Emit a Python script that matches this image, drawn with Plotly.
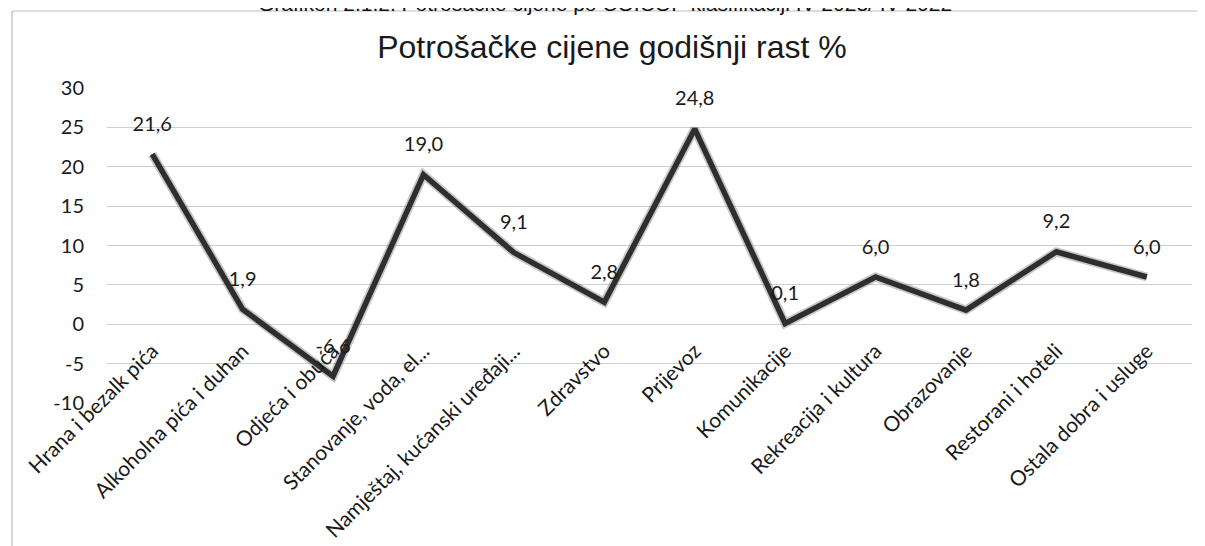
import plotly.graph_objects as go

categories = ["Hrana i bezalk pića", "Alkoholna pića i duhan", "Odjeća i obuća",
              "Stanovanje, voda, el...", "Namještaj, kućanski uređaji...", "Zdravstvo",
              "Prijevoz", "Komunikacije", "Rekreacija i kultura", "Obrazovanje",
              "Restorani i hoteli", "Ostala dobra i usluge"]
values = [21.6, 1.9, -6.6, 19.0, 9.1, 2.8, 24.8, 0.1, 6.0, 1.8, 9.2, 6.0]
labels = [f"{v:.1f}".replace(".", ",") for v in values]
y_ticks = [-10, -5, 0, 5, 10, 15, 20, 25, 30]

# page offset: the html body has an 8px margin
OFF = 8
W, H = 1205, 546
L, T = 107 - OFF, 88 - OFF
pw, ph = 1085, 315
R = W - L - pw
B = H - T - ph


def px_x(p):
    return (p - OFF - L) / pw


def px_y(p):
    return (T + ph - (p - OFF)) / ph


font = "Lato, 'Open Sans', 'DejaVu Sans', sans-serif"

fig = go.Figure()
# soft shadow under the line
fig.add_trace(go.Scatter(x=categories, y=values, mode="lines",
                         line=dict(color="rgba(70,70,70,0.30)", width=9),
                         hoverinfo="skip", showlegend=False))
fig.add_trace(go.Scatter(x=categories, y=values, mode="lines+markers+text",
                         line=dict(color="#2e2e2e", width=5.5),
                         marker=dict(size=28, color="rgba(0,0,0,0)"),
                         text=labels, textposition="top center",
                         textfont=dict(family=font, size=20, color="#1a1a1a"),
                         showlegend=False))

fig.update_layout(
    width=W, height=H,
    margin=dict(l=L, r=R, t=T, b=B, autoexpand=False),
    paper_bgcolor="white", plot_bgcolor="white",
    title=dict(text="Potrošačke cijene godišnji rast %", x=(612 - OFF) / W, xanchor="center",
               y=1 - (47 - OFF) / H, yanchor="middle",
               font=dict(family="'Liberation Sans Narrow', 'Liberation Sans', Arial, sans-serif",
                         size=32, color="#1a1a1a")),
    xaxis=dict(type="category", anchor="free", position=(10 - 1.2) / 40, automargin=False,
               showgrid=False, showline=False, ticks="", tickangle=-45,
               tickfont=dict(family=font, size=21, color="#1a1a1a"),
               range=[-0.5, len(categories) - 0.5], zeroline=False),
    yaxis=dict(range=[-10, 30], tickvals=y_ticks, ticktext=[str(t) for t in y_ticks],
               showgrid=True, gridcolor="#cfcfcf", gridwidth=1.2, zeroline=False,
               showline=False, ticks="", ticklabelstandoff=22, automargin=False,
               tickfont=dict(family=font, size=20, color="#1a1a1a")),
    shapes=[
        dict(type="line", xref="paper", yref="paper",
             x0=px_x(12), x1=px_x(1200), y0=px_y(11), y1=px_y(11),
             line=dict(color="#bdbdbd", width=1.2)),
        dict(type="line", xref="paper", yref="paper",
             x0=px_x(12), x1=px_x(12), y0=px_y(11), y1=px_y(560),
             line=dict(color="#bdbdbd", width=1.2)),
    ],
    annotations=[
        dict(text="Grafikon 2.1.2. Potrošačke cijene po COICOP klasifikaciji IV 2023/ IV 2022",
             xref="paper", yref="paper", x=px_x(605), y=px_y(3), xanchor="center",
             yanchor="middle", showarrow=False,
             font=dict(family="'Liberation Sans', Arial, sans-serif", size=21, color="#111")),
    ],
)

fig.write_html("out.html")
